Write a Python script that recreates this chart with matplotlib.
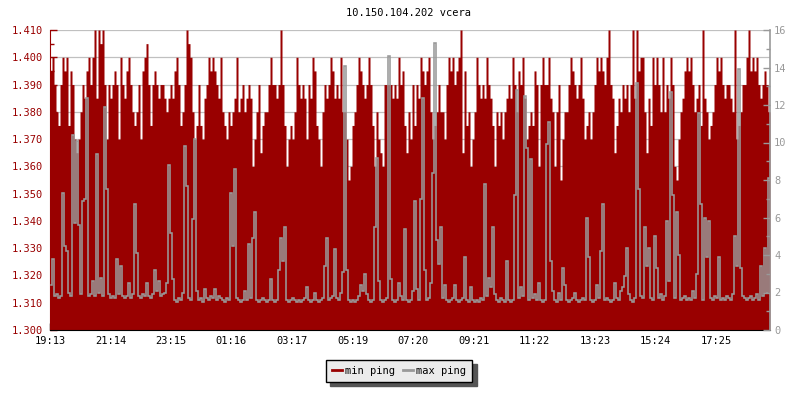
import numpy as np
import matplotlib
matplotlib.use('Agg')
import matplotlib.pyplot as plt
from matplotlib.ticker import MultipleLocator, FormatStrFormatter
from matplotlib.lines import Line2D

plt.rcParams['font.family'] = 'DejaVu Sans Mono'

title = '10.150.104.202 vcera'
step_min = 4  # one sample every 4 minutes, 24 h window

# min ping (left axis, ms)
min_ping = [
    1.395, 1.400, 1.390, 1.380, 1.375, 1.390, 1.400, 1.395, 1.400, 1.375,
    1.395, 1.390, 1.370, 1.365, 1.370, 1.380, 1.390, 1.385, 1.395, 1.400,
    1.390, 1.400, 1.410, 1.385, 1.410, 1.405, 1.410, 1.390, 1.370, 1.390,
    1.385, 1.390, 1.395, 1.390, 1.370, 1.400, 1.390, 1.385, 1.395, 1.400,
    1.390, 1.380, 1.375, 1.380, 1.390, 1.370, 1.395, 1.400, 1.405, 1.390,
    1.375, 1.390, 1.395, 1.390, 1.385, 1.390, 1.390, 1.385, 1.380, 1.385,

    1.390, 1.385, 1.395, 1.400, 1.390, 1.375, 1.380, 1.390, 1.410, 1.405,
    1.400, 1.380, 1.370, 1.375, 1.390, 1.375, 1.370, 1.385, 1.390, 1.400,
    1.395, 1.400, 1.395, 1.390, 1.385, 1.400, 1.380, 1.375, 1.370, 1.380,
    1.375, 1.380, 1.385, 1.400, 1.380, 1.385, 1.390, 1.380, 1.385, 1.390,
    1.385, 1.360, 1.370, 1.380, 1.390, 1.365, 1.375, 1.380, 1.380, 1.390,
    1.400, 1.390, 1.390, 1.385, 1.390, 1.410, 1.390, 1.375, 1.360, 1.370,

    1.375, 1.370, 1.380, 1.400, 1.390, 1.385, 1.390, 1.385, 1.370, 1.390,
    1.385, 1.400, 1.395, 1.375, 1.370, 1.360, 1.380, 1.390, 1.385, 1.390,
    1.400, 1.395, 1.385, 1.390, 1.385, 1.400, 1.380, 1.380, 1.370, 1.355,
    1.360, 1.375, 1.380, 1.390, 1.400, 1.395, 1.390, 1.385, 1.390, 1.400,
    1.390, 1.375, 1.360, 1.380, 1.370, 1.365, 1.360, 1.390, 1.390, 1.390,
    1.390, 1.385, 1.390, 1.385, 1.400, 1.390, 1.395, 1.375, 1.365, 1.380,

    1.370, 1.390, 1.375, 1.390, 1.385, 1.400, 1.395, 1.390, 1.395, 1.400,
    1.380, 1.370, 1.375, 1.380, 1.390, 1.380, 1.380, 1.370, 1.390, 1.400,
    1.395, 1.400, 1.390, 1.395, 1.400, 1.410, 1.365, 1.395, 1.375, 1.380,
    1.360, 1.370, 1.380, 1.400, 1.390, 1.385, 1.390, 1.385, 1.400, 1.390,
    1.385, 1.375, 1.360, 1.380, 1.375, 1.380, 1.370, 1.380, 1.385, 1.390,
    1.385, 1.400, 1.390, 1.380, 1.395, 1.390, 1.400, 1.385, 1.370, 1.375,

    1.380, 1.375, 1.395, 1.390, 1.360, 1.390, 1.400, 1.390, 1.390, 1.400,
    1.385, 1.380, 1.360, 1.380, 1.390, 1.355, 1.370, 1.380, 1.380, 1.390,
    1.400, 1.395, 1.390, 1.385, 1.390, 1.400, 1.385, 1.370, 1.375, 1.380,
    1.370, 1.380, 1.390, 1.400, 1.395, 1.400, 1.395, 1.390, 1.400, 1.410,
    1.390, 1.385, 1.365, 1.375, 1.385, 1.380, 1.390, 1.385, 1.390, 1.380,
    1.390, 1.410, 1.385, 1.410, 1.395, 1.400, 1.400, 1.380, 1.365, 1.385,

    1.375, 1.400, 1.390, 1.400, 1.390, 1.380, 1.400, 1.380, 1.390, 1.385,
    1.400, 1.390, 1.360, 1.355, 1.370, 1.380, 1.385, 1.395, 1.400, 1.395,
    1.400, 1.390, 1.380, 1.385, 1.390, 1.375, 1.410, 1.385, 1.380, 1.370,
    1.375, 1.380, 1.390, 1.400, 1.395, 1.400, 1.390, 1.385, 1.390, 1.390,
    1.385, 1.380, 1.410, 1.370, 1.375, 1.380, 1.390, 1.390, 1.400, 1.410,
    1.395, 1.400, 1.395, 1.400, 1.390, 1.385, 1.390, 1.395, 1.390, 1.380,
]

# max ping (right axis, ms)
max_ping = [
    2.4, 3.8, 1.8, 1.9, 1.7, 1.8, 7.3, 4.5, 4.2, 2.0,
    1.8, 10.4, 5.7, 10.1, 5.6, 1.9, 6.9, 7.0, 12.4, 1.8,
    1.9, 2.6, 1.8, 9.4, 2.0, 2.8, 1.8, 11.9, 7.5, 1.9,
    1.7, 1.8, 1.7, 3.8, 1.9, 3.4, 1.8, 1.7, 1.8, 2.5,
    1.7, 1.9, 6.7, 4.1, 1.8, 1.7, 1.9, 1.8, 2.5, 1.8,
    1.7, 1.9, 3.2, 2.1, 2.6, 1.8, 1.9, 2.0, 2.5, 8.8,

    5.2, 2.7, 1.6, 1.5, 1.7, 1.6, 2.0, 9.8, 7.7, 1.7,
    1.6, 5.9, 10.2, 2.1, 1.6, 1.7, 1.5, 2.2, 1.7, 1.6,
    1.8, 1.7, 2.2, 1.6, 1.8, 1.7, 1.6, 1.5, 1.7, 1.6,
    7.3, 4.5, 8.6, 1.7, 1.6, 1.5, 1.6, 2.1, 1.6, 4.6,
    1.7, 4.9, 6.3, 1.6, 1.5, 1.6, 1.7, 1.6, 1.5, 1.6,
    2.7, 1.6, 1.5, 1.6, 3.2, 4.9, 3.7, 5.5, 1.6, 1.5,

    1.6, 1.7, 1.6, 1.5, 1.6, 1.5, 1.6, 1.7, 2.3, 1.6,
    1.5, 1.6, 2.0, 1.6, 1.5, 1.6, 1.7, 3.4, 4.9, 1.6,
    1.7, 1.8, 4.3, 1.7, 1.6, 2.0, 3.1, 14.1, 3.2, 1.6,
    1.5, 1.6, 1.5, 1.6, 1.8, 2.4, 2.1, 3.0, 1.9, 1.6,
    1.5, 1.6, 5.5, 9.2, 2.6, 1.6, 1.5, 1.6, 1.7, 14.6,
    2.7, 1.6, 1.5, 1.6, 2.5, 1.8, 1.6, 5.4, 1.6, 1.5,

    1.6, 2.1, 6.9, 2.2, 1.6, 7.0, 12.4, 3.2, 1.6, 1.7,
    2.5, 8.4, 15.3, 4.8, 3.5, 5.5, 1.7, 2.4, 1.6, 1.5,
    1.6, 1.7, 2.4, 1.6, 1.5, 1.6, 1.7, 3.9, 1.6, 1.5,
    2.3, 1.6, 1.5, 1.6, 1.5, 1.7, 1.6, 7.8, 1.8, 2.8,
    2.3, 5.5, 1.9, 1.6, 1.5, 1.7, 1.6, 1.5, 3.7, 1.6,
    1.5, 1.6, 7.2, 12.8, 1.7, 2.3, 1.8, 12.5, 9.7, 1.6,

    9.1, 1.7, 1.9, 1.6, 2.5, 1.6, 1.5, 1.6, 9.9, 11.1,
    3.7, 2.1, 1.6, 1.5, 2.0, 1.6, 3.3, 2.4, 1.6, 1.5,
    1.6, 1.7, 2.0, 1.6, 1.5, 1.6, 1.7, 1.6, 6.0, 3.9,
    1.6, 1.5, 1.6, 2.4, 1.7, 4.2, 6.7, 1.6, 1.7, 1.6,
    1.5, 1.6, 2.5, 1.7, 1.6, 2.1, 2.3, 2.9, 4.4, 1.9,
    1.6, 1.5, 1.7, 13.2, 7.5, 1.8, 1.7, 5.5, 3.4, 4.4,

    1.7, 1.6, 5.0, 3.3, 1.7, 1.9, 1.6, 1.8, 5.8, 2.6,
    12.7, 7.2, 1.7, 6.3, 4.0, 1.6, 1.7, 1.8, 1.6, 1.7,
    1.6, 2.1, 1.7, 3.0, 11.6, 6.7, 1.6, 6.0, 3.9, 5.8,
    1.7, 1.6, 1.8, 1.7, 3.9, 1.6, 1.7, 1.6, 1.8, 1.7,
    1.6, 1.9, 5.0, 3.4, 13.9, 3.3, 1.8, 1.7, 1.6, 1.7,
    1.8, 1.6, 1.7, 1.9, 1.6, 3.4, 1.8, 4.4, 2.0, 8.1,
]

tick_labels = ['19:13', '21:14', '23:15', '01:16', '03:17', '05:19',
               '07:20', '09:21', '11:22', '13:23', '15:24', '17:25']

RED = '#990000'
GRAY = '#999999'

n = len(min_ping)
x = np.arange(n + 1) * step_min
y_min = np.append(min_ping, min_ping[-1])
x_mid = np.arange(n) * step_min + step_min / 2

start = 19 * 60 + 13
tick_pos = [((int(t[:2]) * 60 + int(t[3:])) - start) % 1440 for t in tick_labels]

fig = plt.figure(figsize=(8, 4), dpi=100)
ax = fig.add_axes([50 / 800, 70 / 400, 720 / 800, 300 / 400])
ax2 = ax.twinx()

ax.fill_between(x, 1.3, y_min, step='post', color=RED, linewidth=0, zorder=1)
ax2.plot(x_mid, max_ping, color=GRAY, linewidth=1.15, drawstyle='steps-mid',
         solid_joinstyle='miter')

ax.set_xlim(0, n * step_min)
ax.set_ylim(1.3, 1.41)
ax2.set_ylim(0, 16)

# left axis
ax.yaxis.set_major_locator(MultipleLocator(0.01))
ax.yaxis.set_minor_locator(MultipleLocator(0.005))
ax.yaxis.set_major_formatter(FormatStrFormatter('%.3f'))
ax.tick_params(axis='y', which='major', direction='in', length=5, width=1,
               color=RED, labelcolor=RED, labelsize=7.5, pad=5)
ax.tick_params(axis='y', which='minor', direction='in', length=3, width=1, color=RED)
ax.grid(axis='y', color='#c0c0c0', linewidth=0.9)
ax.set_axisbelow(True)

# bottom axis
ax.set_xticks(tick_pos)
ax.set_xticklabels(tick_labels)
ax.tick_params(axis='x', direction='in', length=5, width=1, color='black',
               labelsize=7.5, pad=4)

# right axis
ax2.yaxis.set_major_locator(MultipleLocator(2))
ax2.yaxis.set_minor_locator(MultipleLocator(1))
ax2.tick_params(axis='y', which='major', direction='in', length=5, width=1,
                color=GRAY, labelcolor=GRAY, labelsize=7.5, pad=3)
ax2.tick_params(axis='y', which='minor', direction='in', length=3, width=1, color=GRAY)

for s in ['top', 'right']:
    ax.spines[s].set_visible(False)
ax.spines['left'].set_color(RED)
ax.spines['bottom'].set_color('black')
for s in ['top', 'left', 'bottom']:
    ax2.spines[s].set_visible(False)
ax2.spines['right'].set_color(GRAY)
ax2.spines['right'].set_linewidth(1.2)

fig.text(409 / 800, 1 - 13 / 400, title, ha='center', va='center', fontsize=7.5)

handles = [Line2D([], [], color=RED, linewidth=2),
           Line2D([], [], color=GRAY, linewidth=2)]
leg = fig.legend(handles, ['min ping', 'max ping'], loc='center',
                 bbox_to_anchor=(399 / 800, 1 - 371 / 400), ncol=2,
                 fontsize=7.5, frameon=True, fancybox=False,
                 shadow={'color': '#555555', 'alpha': 1, 'ox': 3, 'oy': -3},
                 handlelength=1.0, handletextpad=0.3, columnspacing=0.7,
                 borderpad=0.6, borderaxespad=0)
leg.get_frame().set_facecolor('#ebebeb')
leg.get_frame().set_edgecolor('black')
leg.get_frame().set_linewidth(1)
leg.get_frame().set_alpha(1)

fig.savefig('out.png', dpi=100)
